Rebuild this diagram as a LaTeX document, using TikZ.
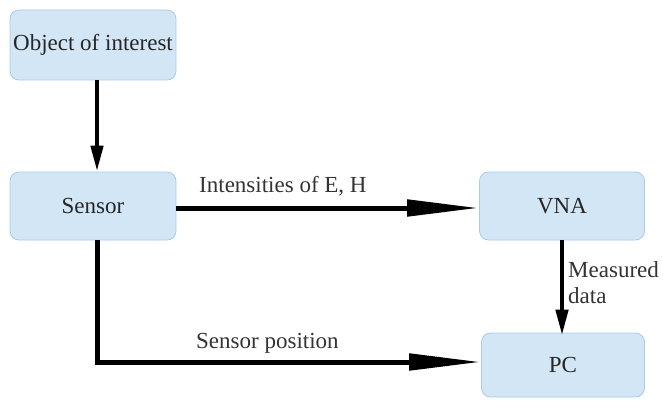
\documentclass[tikz,border=0pt]{standalone}
\usepackage{fontspec}
\setmainfont{Liberation Serif}
\usetikzlibrary{arrows.meta}
\definecolor{boxfill}{HTML}{D3E6F5}
\definecolor{boxline}{HTML}{A9CBE8}
\begin{document}
\begin{tikzpicture}[x=1pt,y=-1pt,
  blk/.style={draw=boxline,fill=boxfill,rounded corners=9pt,line width=0.8pt,minimum width=166pt,minimum height=68pt,inner sep=0pt,font=\fontsize{23}{26}\selectfont,text=black!85},
  harrow/.style={line width=5pt,-{Triangle[length=72pt,width=16pt]}},
  varrow/.style={line width=4.5pt,-{Triangle[length=26pt,width=12pt]}},
  lbl/.style={font=\fontsize{23}{26}\selectfont,text=black!80,inner sep=0pt}]
\useasboundingbox (0,0) rectangle (663,401);
\node[blk,minimum height=70pt] (obj) at (93,45) {Object of interest};
\node[blk] (sen) at (93,206) {Sensor};
\node[blk,minimum width=165pt] (vna) at (562,206) {VNA};
\node[blk,minimum width=163pt,minimum height=64pt] (pc) at (563,365) {PC};
\coordinate (c1) at (97,362);
\draw[varrow] (obj.south -| 97,0) -- (sen.north -| 97,0);
\draw[harrow] (sen.east |- 0,208) -- (vna.west |- 0,208);
\draw[varrow] (vna.south -| 562,0) -- ([yshift=-3pt]pc.north -| 562,0);
\draw[line width=5pt] (sen.south -| 97,0) -- (c1);
\draw[harrow] ([xshift=-2.5pt]c1) -- (pc.west |- c1);
\node[lbl,anchor=west] (l1) at (199,186) {Intensities of E, H};
\node[lbl,anchor=west] (l2) at (196,343) {Sensor position};
\node[lbl,anchor=west,align=left] (l3) at (568,283) {Measured\\data};
\end{tikzpicture}
\end{document}
